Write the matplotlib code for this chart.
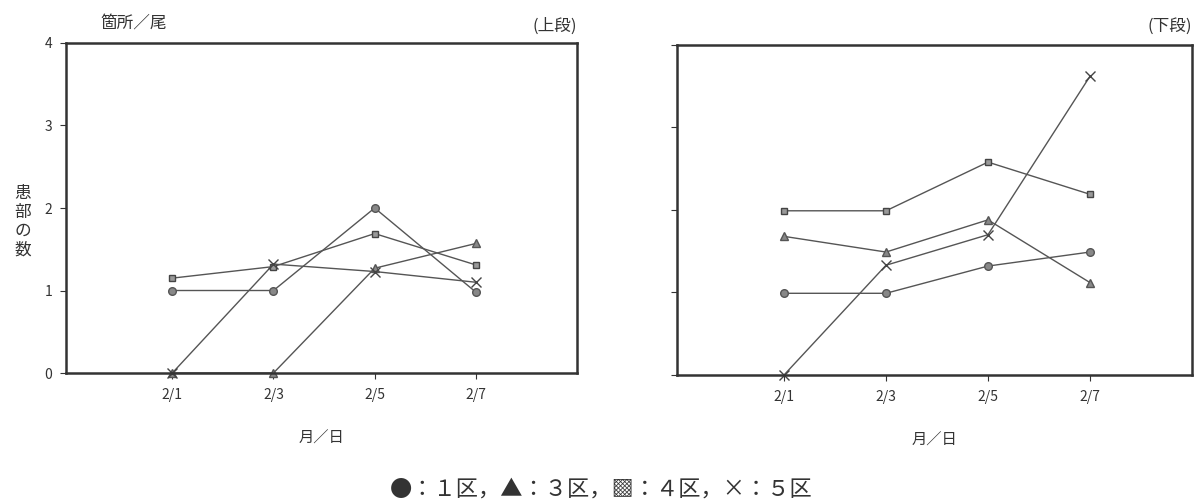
import matplotlib
matplotlib.use("Agg")
import matplotlib.pyplot as plt

plt.rcParams['font.family'] = ['Noto Sans CJK JP', 'DejaVu Sans']

# data
days = [1, 3, 5, 7]
day_labels = ["2/1", "2/3", "2/5", "2/7"]

upper_ku1 = [1.0, 1.0, 2.0, 0.98]
upper_ku3 = [0.0, 0.0, 1.27, 1.57]
upper_ku4 = [1.15, 1.29, 1.69, 1.31]
upper_ku5 = [0.0, 1.32, 1.23, 1.10]

lower_ku1 = [0.99, 0.99, 1.32, 1.49]
lower_ku3 = [1.68, 1.49, 1.88, 1.12]
lower_ku4 = [1.99, 1.99, 2.58, 2.19]
lower_ku5 = [0.0, 1.33, 1.70, 3.62]

line_col = "#555555"
frame_col = "#333333"

fig = plt.figure(figsize=(11.96, 5.04), dpi=100)
ax1 = fig.add_axes([0.0552, 0.2599, 0.4273, 0.6548])
ax2 = fig.add_axes([0.566, 0.256, 0.4306, 0.6548])


def draw_panel(ax, k1, k3, k4, k5, show_ylabels):
    ax.plot(days, k1, color=line_col, lw=1.0, marker="o", ms=5.5,
            mfc="#888888", mec="#555555", clip_on=False)
    ax.plot(days, k3, color=line_col, lw=1.0, marker="^", ms=5.5,
            mfc="#888888", mec="#555555", clip_on=False)
    ax.plot(days, k4, color=line_col, lw=1.0, marker="s", ms=5,
            mfc="#999999", mec="#444444", clip_on=False)
    ax.plot(days, k5, color=line_col, lw=1.0, marker="x", ms=7.5,
            mew=1.0, mec="#444444", clip_on=False)
    ax.set_xlim(-1.1, 9.0)
    ax.set_ylim(0, 4)
    ax.set_xticks(days)
    ax.set_xticklabels(day_labels, fontsize=10, color="#333333")
    ax.set_yticks([0, 1, 2, 3, 4])
    if show_ylabels:
        ax.set_yticklabels(["0", "1", "2", "3", "4"], fontsize=10, color="#333333")
    else:
        ax.set_yticklabels([])
    ax.tick_params(direction="out", length=4, width=0.8, color=frame_col, pad=6)
    ax.tick_params(axis="x", pad=7)
    for s in ax.spines.values():
        s.set_linewidth(1.8)
        s.set_color(frame_col)
    ax.set_xlabel("月／日", fontsize=11, labelpad=20, color="#333333")


draw_panel(ax1, upper_ku1, upper_ku3, upper_ku4, upper_ku5, True)
draw_panel(ax2, lower_ku1, lower_ku3, lower_ku4, lower_ku5, False)

fig.text(0.084, 0.955, "箇所／尾", fontsize=12, va="center", color="#333333")
fig.text(0.4824, 0.948, "(上段)", fontsize=12, ha="right", va="center", color="#333333")
fig.text(0.9966, 0.948, "(下段)", fontsize=12, ha="right", va="center", color="#333333")
fig.text(0.019, 0.56, "患\n部\nの\n数", fontsize=12, ha="center", va="center",
         linespacing=1.15, color="#333333")
fig.text(0.503, 0.03, "●：１区，▲：３区，▩：４区，×：５区", fontsize=16,
         ha="center", va="center", color="#333333")

fig.savefig("out.png", dpi=100)
